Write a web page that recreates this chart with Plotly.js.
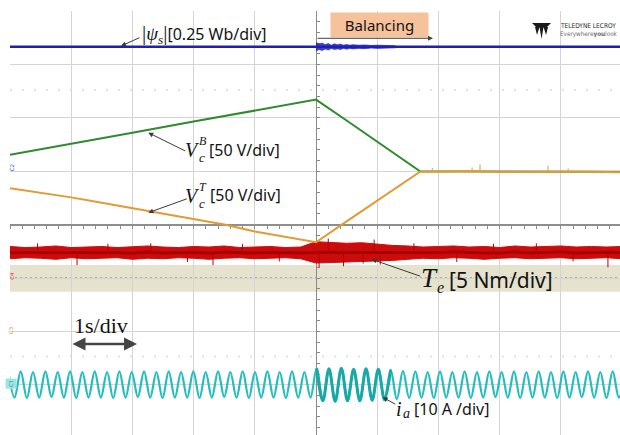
<!DOCTYPE html>
<html><head><meta charset="utf-8">
<script src="https://cdn.plot.ly/plotly-3.0.1.min.js"></script>
<style>html,body{margin:0;padding:0;background:#fff}#chart{width:620px;height:435px}</style>
</head><body><div id="chart"></div>
<script>
// ---- data (time in s = div, amplitude in screen divisions) ----
const psiT = [0, 1, 2, 3, 4, 5, 6, 7, 8, 9, 9.97];
const psiV = [3.33, 3.33, 3.335, 3.33, 3.33, 3.335, 3.33, 3.33, 3.33, 3.33, 3.33];
const psiBurstT  = [5.0, 5.05, 5.1, 5.15, 5.2, 5.25, 5.3, 5.35, 5.4, 5.45, 5.5, 5.55, 5.6, 5.7, 5.8, 5.9, 6.0, 6.1, 6.2, 6.3];
const psiBurstHi = [3.41, 3.38, 3.40, 3.37, 3.39, 3.36, 3.385, 3.37, 3.38, 3.36, 3.375, 3.36, 3.37, 3.36, 3.365, 3.355, 3.36, 3.355, 3.355, 3.35];
const psiBurstLo = [3.25, 3.28, 3.26, 3.29, 3.27, 3.30, 3.28, 3.29, 3.28, 3.30, 3.285, 3.30, 3.29, 3.30, 3.295, 3.305, 3.30, 3.305, 3.305, 3.31];

const greenT = [0, 1, 2, 3, 4, 5.0, 5.5, 6, 6.7, 9.97];
const greenV = [1.31, 1.51, 1.72, 1.93, 2.13, 2.34, 1.95, 1.55, 1.0, 0.99];

const orangeT = [0, 0.5, 1, 1.5, 2, 2.5, 3, 3.5, 4, 4.5, 5.0, 5.5, 6, 6.5, 6.7, 7, 7.5, 8, 8.5, 9, 9.5, 9.97];
const orangeV = [0.68, 0.60, 0.51, 0.41, 0.31, 0.21, 0.10, 0.0, -0.13, -0.23, -0.33, 0.06, 0.45, 0.84, 0.99, 0.99, 1.0, 0.985, 0.99, 0.985, 0.99, 0.98];
const orangeLevel = 0.99;
const orangeSpikeT = [6.9, 7.55, 7.68, 8.79, 9.12];
const orangeSpikeV = [1.06, 1.07, 1.13, 1.10, 1.05];

const redT  = [0,0.25,0.5,0.75,1,1.25,1.5,1.75,2,2.25,2.5,2.75,3,3.25,3.5,3.75,4,4.25,4.5,4.75,5,5.25,5.5,5.75,6,6.25,6.5,6.75,7,7.25,7.5,7.75,8,8.25,8.5,8.75,9,9.25,9.5,9.75,10];
const redHi = [-0.41,-0.43,-0.42,-0.40,-0.43,-0.42,-0.41,-0.43,-0.42,-0.40,-0.42,-0.43,-0.41,-0.42,-0.40,-0.43,-0.42,-0.41,-0.43,-0.42,
               -0.32,-0.33,-0.35,-0.34,-0.37,-0.39,
               -0.40,-0.42,-0.41,-0.40,-0.42,-0.41,-0.43,-0.40,-0.42,-0.41,-0.40,-0.42,-0.41,-0.42,-0.41];
const redLo = [-0.64,-0.62,-0.63,-0.65,-0.62,-0.64,-0.63,-0.62,-0.65,-0.63,-0.64,-0.62,-0.63,-0.65,-0.63,-0.62,-0.64,-0.63,-0.62,-0.64,
               -0.72,-0.71,-0.70,-0.70,-0.68,-0.67,
               -0.65,-0.63,-0.64,-0.62,-0.63,-0.65,-0.63,-0.62,-0.64,-0.63,-0.62,-0.64,-0.63,-0.62,-0.64];
const redLevel = -0.53;
const redSpikeT = [0.45, 1.095, 1.6, 2.3, 2.9, 3.317, 3.8, 4.4, 5.05, 5.2, 5.45, 5.77, 5.95, 6.05, 6.6, 7.3, 7.9, 8.6, 9.2, 9.77];
const redSpikeV = [-0.35, -0.76, -0.36, -0.35, -0.70, -0.76, -0.36, -0.69, -0.80, -0.26, -0.78, -0.73, -0.28, -0.75, -0.35, -0.70, -0.36, -0.35, -0.69, -0.80];

// i_a extrema (peaks / troughs), ~5 Hz
const cyanT = [-0.026,0.074,0.175,0.276,0.376,0.477,0.578,0.679,0.779,0.880,0.981,1.082,1.182,1.283,1.384,1.485,1.586,1.686,1.787,1.888,
  1.989,2.089,2.190,2.291,2.392,2.492,2.593,2.694,2.795,2.895,2.996,3.097,3.197,3.298,3.399,3.500,3.600,3.701,3.802,3.903,
  4.003,4.104,4.205,4.306,4.407,4.507,4.608,4.709,4.810,4.910,5.011,5.112,5.212,5.313,5.414,5.515,5.615,5.716,5.817,5.918,
  6.018,6.119,6.220,6.321,6.421,6.522,6.623,6.724,6.824,6.925,7.026,7.127,7.227,7.328,7.429,7.530,7.630,7.731,7.832,7.933,
  8.033,8.134,8.235,8.336,8.437,8.537,8.638,8.739,8.840,8.940,9.041,9.142,9.242,9.343,9.444,9.545,9.645,9.746,9.847,9.948,10.048];
const cyanV = [-2.76,-3.24,-2.75,-3.25,-2.76,-3.24,-2.75,-3.23,-2.76,-3.24,-2.75,-3.25,-2.76,-3.24,-2.75,-3.24,-2.76,-3.25,-2.75,-3.24,
  -2.76,-3.23,-2.75,-3.24,-2.76,-3.25,-2.75,-3.24,-2.76,-3.24,-2.75,-3.25,-2.76,-3.24,-2.75,-3.23,-2.76,-3.24,-2.75,-3.25,
  -2.76,-3.24,-2.75,-3.24,-2.76,-3.25,-2.75,-3.24,-2.76,-3.24,-2.69,-3.30,-2.70,-3.31,-2.69,-3.30,-2.71,-3.30,-2.70,-3.29,
  -2.71,-3.28,-2.72,-3.27,-2.74,-3.25,-2.75,-3.24,-2.76,-3.25,-2.75,-3.24,-2.76,-3.24,-2.75,-3.25,-2.76,-3.24,-2.75,-3.23,
  -2.76,-3.24,-2.75,-3.25,-2.76,-3.24,-2.75,-3.24,-2.76,-3.25,-2.75,-3.24,-2.76,-3.23,-2.75,-3.24,-2.76,-3.25,-2.75,-3.24,-2.76];
const cyanBurst = [4.95, 6.25];

// ---- geometry helpers (pixel -> axis units, for labels only) ----
const X = px => (px - 10) / 61.2;
const Y = py => (224.6 - py) / 53.4;

function spikeXY(ts, vs, base) {
  const x = [], y = [];
  ts.forEach((t, i) => { x.push(t, t, null); y.push(base, vs[i], null); });
  return {x, y};
}
const rs = spikeXY(redSpikeT, redSpikeV, redLevel);
const os = spikeXY(orangeSpikeT, orangeSpikeV, orangeLevel);
const bT = [], bV = [];
cyanT.forEach((t, i) => { if (t >= cyanBurst[0] && t <= cyanBurst[1]) { bT.push(t); bV.push(cyanV[i]); } });
const redMid = redHi.map((h, i) => (h + redLo[i]) / 2);

const BLUE = '#1f1fb8', RED = '#cc0c0c', GREEN = '#2e8b2e', ORANGE = '#e39a35', CYAN = '#25bdbd';

const traces = [
  {x: psiBurstT, y: psiBurstLo, mode: 'lines', line: {color: BLUE, width: 0.6}, hoverinfo: 'skip'},
  {x: psiBurstT, y: psiBurstHi, mode: 'lines', fill: 'tonexty', fillcolor: 'rgba(31,31,184,0.85)', line: {color: BLUE, width: 0.6}, hoverinfo: 'skip'},
  {x: psiT, y: psiV, mode: 'lines', line: {color: BLUE, width: 2.4}},
  {x: redT, y: redLo, mode: 'lines', line: {color: RED, width: 1}, hoverinfo: 'skip'},
  {x: redT, y: redHi, mode: 'lines', fill: 'tonexty', fillcolor: RED, line: {color: RED, width: 1}},
  {x: redT, y: redMid, mode: 'lines', line: {color: '#a80000', width: 3}},
  {x: rs.x, y: rs.y, mode: 'lines', line: {color: '#b80000', width: 1}, connectgaps: false},
  {x: cyanT, y: cyanV, mode: 'lines', line: {color: CYAN, width: 2.2, shape: 'spline', smoothing: 1}},
  {x: bT, y: bV, mode: 'lines', line: {color: '#19a8a8', width: 3, shape: 'spline', smoothing: 1}},
  {x: greenT, y: greenV, xaxis: 'x2', yaxis: 'y2', mode: 'lines', line: {color: GREEN, width: 2}},
  {x: orangeT, y: orangeV, xaxis: 'x2', yaxis: 'y2', mode: 'lines', line: {color: ORANGE, width: 2}},
  {x: os.x, y: os.y, xaxis: 'x2', yaxis: 'y2', mode: 'lines', line: {color: ORANGE, width: 1}, connectgaps: false}
];

const SANS = 'Noto Sans, Liberation Sans, sans-serif';
const SERIF = 'Liberation Serif, DejaVu Serif, serif';
const COND = 'DejaVu Sans Condensed, Liberation Sans Narrow, sans-serif';
const TXT = '#141414';
const lbl = (px, py, text, size, family, extra) => Object.assign({
  x: X(px), y: Y(py), xref: 'x', yref: 'y', text, showarrow: false,
  font: {family, size, color: TXT}, xanchor: 'center', yanchor: 'middle'}, extra || {});
const arrow = (hx, hy, tx, ty, extra) => Object.assign({
  x: X(hx), y: Y(hy), ax: X(tx), ay: Y(ty), xref: 'x', yref: 'y', axref: 'x', ayref: 'y',
  showarrow: true, arrowhead: 2, arrowsize: 1, arrowwidth: 1, arrowcolor: '#3a3a3a',
  standoff: 0, startstandoff: 0, text: ''}, extra || {});

const annotations = [
  // psi label
  lbl(140, 34, '<span style="font-family:Liberation Serif;font-size:21px">|</span><span style="font-family:Liberation Serif;font-size:19px"><i>ψ</i><sub><i>s</i></sub></span><span style="font-family:Liberation Serif;font-size:21px">|</span>[0.25 Wb/div]', 16, SANS, {xanchor: 'left'}),
  arrow(121, 46, 141, 37),
  // Balancing
  lbl(379.5, 25, 'Balancing', 15, SANS, {bgcolor: '#f6c29b', width: 95, height: 22}),
  arrow(433, 38.3, 316, 38.3, {arrowcolor: '#444'}),
  // Vc^B
  lbl(192, 150, '<i>V</i>', 20, SERIF),
  lbl(202.5, 141, '<i>B</i>', 12, SERIF),
  lbl(201.5, 157, '<i>c</i>', 13, SERIF),
  lbl(207, 150, '[50 V/div]', 16, SANS, {xanchor: 'left'}),
  arrow(148.3, 132.7, 186.7, 151.7),
  // Vc^T
  lbl(192, 196, '<i>V</i>', 20, SERIF),
  lbl(202.5, 187, '<i>T</i>', 12, SERIF),
  lbl(201.5, 203, '<i>c</i>', 13, SERIF),
  lbl(208, 195, '[50 V/div]', 16, SANS, {xanchor: 'left'}),
  arrow(148.3, 212.7, 188.3, 198.3),
  // Te
  lbl(429, 278, '<i>T</i>', 27, SERIF),
  lbl(440, 287, '<i>e</i>', 16, SERIF),
  lbl(447, 280, '[5 Nm/div]', 21, SANS, {xanchor: 'left'}),
  arrow(371.7, 259.3, 421.7, 276.7),
  // 1s/div
  lbl(101, 325, '1s/div', 22, SERIF),
  arrow(137, 344, 71, 344, {arrowside: 'end+start', startarrowhead: 2, arrowwidth: 2.6, arrowsize: 1, startarrowsize: 1, arrowcolor: '#444'}),
  // ia
  lbl(399, 409, '<i>i</i>', 20, SERIF),
  lbl(406.5, 413, '<i>a</i>', 14, SERIF),
  lbl(412, 409, '[10 A /div]', 16, SANS, {xanchor: 'left'}),
  arrow(382.7, 397.3, 396.7, 405),
  // logo text
  lbl(558, 25.5, 'TELEDYNE LECROY', 6.5, COND, {xanchor: 'left', font: {family: COND, size: 6.5, color: '#2a2a2a'}}),
  lbl(558, 33.5, 'Everywhere<b>you</b>look', 6.3, COND, {xanchor: 'left', font: {family: COND, size: 6.3, color: '#6a6a6a'}}),
  // channel markers in left margin
  {xref: 'paper', yref: 'y', x: -0.006, y: Y(167), text: 'C2', textangle: -90, showarrow: false, font: {size: 6, color: '#3a3ad0', family: SANS}},
  {xref: 'paper', yref: 'y', x: -0.007, y: Y(276), text: 'C4', textangle: -90, showarrow: false, font: {size: 6, color: '#d04040', family: SANS}},
  {xref: 'paper', yref: 'y', x: -0.008, y: Y(330), text: 'C3', textangle: -90, showarrow: false, font: {size: 6, color: '#d89030', family: SANS}},
  {xref: 'paper', yref: 'y', x: -0.008, y: Y(384), text: 'C1', textangle: -90, showarrow: false, bgcolor: '#9fe3e3', font: {size: 6, color: '#1a9a9a', family: SANS}}
];

// logo symbol (decoration)
const P = pts => 'M' + pts.map(p => X(p[0]) + ',' + Y(p[1])).join(' L') + ' Z';
const logoPath = P([[532,23],[551,23],[547,27],[536,27]]) + ' ' +
                 P([[535,27],[539.5,27],[537,35]]) + ' ' +
                 P([[543.5,27],[548,27],[546,35]]) + ' ' +
                 P([[539.5,27],[543.5,27],[541.5,39]]);

const shapes = [
  {type: 'rect', xref: 'paper', x0: 0, x1: 1, yref: 'y', y0: -0.757, y1: -1.257, fillcolor: '#e5e3cd', line: {width: 0}, layer: 'below'},
  {type: 'line', xref: 'paper', x0: 0, x1: 1, yref: 'y', y0: -1, y1: -1, line: {color: '#e5e3cd', width: 2}, layer: 'between'},
  {type: 'line', xref: 'paper', x0: 0, x1: 1, yref: 'y', y0: -1, y1: -1, line: {color: '#7a7a7a', width: 1, dash: '2px,3px'}, layer: 'between'},
  {type: 'line', xref: 'paper', x0: 0, x1: 1, yref: 'y', y0: Y(90), y1: Y(90), line: {color: '#e2e2e2', width: 2, dash: '2px,10px'}, layer: 'between'},
  {type: 'line', xref: 'paper', x0: 0, x1: 1, yref: 'y', y0: Y(356.5), y1: Y(356.5), line: {color: '#e2e2e2', width: 2, dash: '2px,10px'}, layer: 'between'},
  {type: 'path', xref: 'x', yref: 'y', path: logoPath, fillcolor: '#1a1a1a', line: {width: 0}}
];

const XR = [0, 9.967], YR = [-3.94, 4];
const layout = {
  width: 620, height: 435,
  margin: {l: 10, r: 0, t: 11, b: 0, pad: 0},
  paper_bgcolor: '#ffffff', plot_bgcolor: '#ffffff',
  showlegend: false,
  xaxis: {range: XR, tick0: 0, dtick: 1, showgrid: true, gridcolor: '#d4d4d4', gridwidth: 1,
          zeroline: false, showticklabels: false, ticks: '', showline: false, fixedrange: true, automargin: false},
  yaxis: {range: YR, tick0: 0, dtick: 1, showgrid: true, gridcolor: '#d4d4d4', gridwidth: 1,
          zeroline: true, zerolinecolor: '#8e8e8e', zerolinewidth: 1,
          showticklabels: false, ticks: '', showline: false, fixedrange: true, automargin: false},
  xaxis2: {range: XR, overlaying: 'x', anchor: 'free', position: 3.94 / 7.94, showgrid: false, zeroline: false,
           showline: true, linecolor: '#8e8e8e', linewidth: 1, ticks: 'outside', tick0: 0, dtick: 0.2, ticklen: 3,
           tickcolor: '#8e8e8e', showticklabels: false, fixedrange: true, automargin: false, layer: 'below traces'},
  yaxis2: {range: YR, overlaying: 'y', anchor: 'free', position: 5 / 9.967, showgrid: false, zeroline: false,
           showline: true, linecolor: '#8a8a8a', linewidth: 1, ticks: 'inside', tick0: 0, dtick: 0.2, ticklen: 3,
           tickcolor: '#8a8a8a', showticklabels: false, fixedrange: true, automargin: false, layer: 'below traces'},
  annotations, shapes
};

Plotly.newPlot('chart', traces, layout, {staticPlot: true, displayModeBar: false});
</script></body></html>
